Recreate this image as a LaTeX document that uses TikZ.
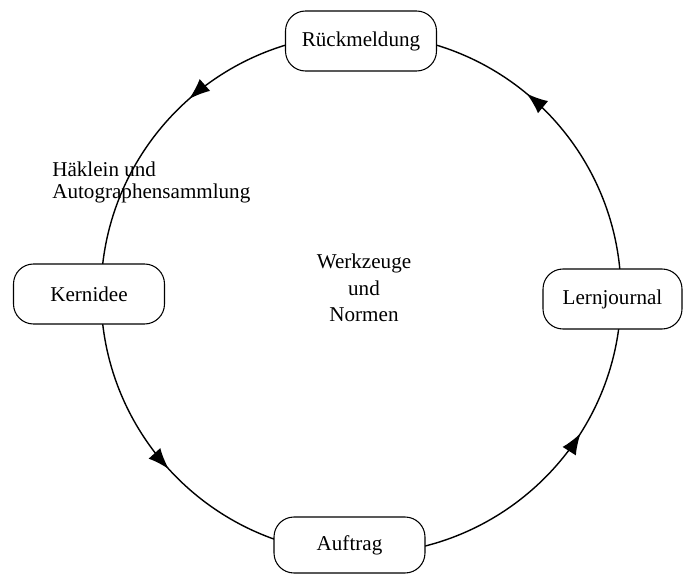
\documentclass[tikz,border=0pt]{standalone}
\usepackage{fontspec}
\setmainfont{Liberation Serif}
\usetikzlibrary{arrows.meta,positioning,calc,decorations.markings}
\tikzset{
  cyclebox/.style={draw, line width=0.6pt, rounded corners=0.4cm, fill=white,
    align=center, font=\fontsize{12}{14}\selectfont,
    minimum height=1.2cm, minimum width=3.02cm},
  cyclenote/.style={inner sep=0pt, font=\fontsize{12}{12}\selectfont},
  cyclearc/.style={line width=0.8pt, postaction={decorate},
    decoration={markings, mark=at position #1 with {\arrow{Latex[length=12pt,width=9pt]}}}}
}

\begin{document}
\begin{tikzpicture}
    \useasboundingbox (0,0) rectangle (13.68,11.48);
    \coordinate (centre) at (7.22,5.60);
    \coordinate (cTop) at ($(centre)+(90:5.2)$);
    \coordinate (cLeft) at ($(centre)+(180:5.2)$);
    \coordinate (cBottom) at ($(centre)+(270:5.2)$);
    \coordinate (cRight) at ($(centre)+(0:5.2)$);
    % circle, counter-clockwise
    \draw[cyclearc=0.46] (cTop) arc[start angle=90, end angle=180, radius=5.2];
    \draw[cyclearc=0.47] (cLeft) arc[start angle=180, end angle=270, radius=5.2];
    \draw[cyclearc=0.64] (cBottom) arc[start angle=270, end angle=360, radius=5.2];
    \draw[cyclearc=0.56] (cRight) arc[start angle=0, end angle=90, radius=5.2];
    \node[cyclebox] (rueck) at (7.22,10.66) {Rückmeldung};
    \node[cyclebox] (kern) at (1.78,5.60) {Kernidee};
    \node[cyclebox, minimum height=1.12cm] (auftrag) at (6.99,0.58) {Auftrag};
    \node[cyclebox, minimum width=2.78cm] (lern) at (12.25,5.50) {Lernjournal};
    \node[cyclenote, anchor=north west, align=left] (haeklein) at (1.04,8.24)
      {Häklein und\\Autographensammlung};
    \node[cyclenote, anchor=north, align=center, font=\fontsize{12}{15}\selectfont]
      (werkzeug) at (7.28,6.40) {Werkzeuge\\und\\Normen};
  \end{tikzpicture}
\end{document}
